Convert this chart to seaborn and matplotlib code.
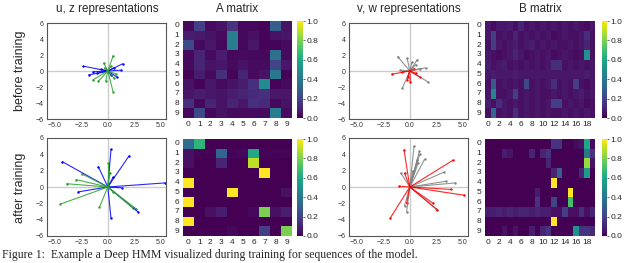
import numpy as np
import pandas as pd
import seaborn as sns
import matplotlib
matplotlib.use('Agg')
import matplotlib.pyplot as plt

# ---- vector endpoints (x, y), all drawn from the origin ----
u_before = [(-2.3, 0.6), (1.4, 0.9), (1.2, 0.1), (-1.8, -0.5), (-1.4, -0.1),
            (0.9, -0.8), (-1.0, -0.3), (0.6, 0.4), (0.3, -0.5), (-0.6, 0.2)]
z_before = [(0.5, 1.9), (-0.4, 1.0), (0.5, -2.6), (-1.4, -1.1), (-0.9, -1.3),
            (-0.2, -1.3), (0.8, -0.4), (0.6, -0.9), (-0.3, 0.4), (0.3, 0.6)]
u_after = [(-4.3, 3.1), (0.3, 4.6), (2.0, 3.8), (-0.9, 2.5), (-2.8, -0.6),
           (0.3, -3.8), (2.9, -3.1), (1.3, -0.1), (5.4, 0.5), (0.5, 1.2)]
z_after = [(-4.5, -2.1), (-3.9, 0.4), (-3.0, 0.9), (-2.45, 1.6), (-0.8, -2.5),
           (0.0, 2.9), (0.2, 1.7), (2.7, -2.7), (2.4, -2.6), (0.5, -0.6)]

v_before = [(-1.15, 1.8), (-0.7, -2.1), (1.5, 0.4), (0.7, 1.4), (-0.25, 1.6),
            (1.7, -1.35), (-0.9, 0.1), (0.55, 0.8), (0.2, 1.1), (1.0, 0.3)]
w_before = [(-1.7, -0.4), (-0.25, -1.15), (1.0, -0.8), (-0.2, -0.75), (0.4, 0.3),
            (-0.7, -0.1), (0.05, -1.35), (0.6, -0.3)]
v_after = [(0.4, 5.0), (0.9, 4.35), (0.95, 4.05), (1.4, 3.4), (0.7, 3.3),
           (-0.85, 1.7), (3.2, 1.8), (3.4, 0.7), (4.3, 0.5), (-0.5, -2.3),
           (-0.3, -3.0), (2.5, -2.7), (0.3, 2.0), (0.8, 3.0)]
w_after = [(-0.55, 4.55), (-1.85, -3.8), (4.1, 3.3), (5.1, -1.0), (3.9, -0.3),
           (2.6, -2.8), (-0.5, 1.7), (-1.0, 0.1), (-0.3, -2.0), (2.2, -2.0)]

# ---- transition matrices ----
A_before = [
    [0.02, 0.18, 0.03, 0.05, 0.15, 0.02, 0.02, 0.01, 0.30, 0.05],
    [0.08, 0.07, 0.05, 0.03, 0.42, 0.02, 0.04, 0.01, 0.05, 0.06],
    [0.22, 0.03, 0.06, 0.02, 0.42, 0.02, 0.06, 0.01, 0.01, 0.03],
    [0.02, 0.10, 0.03, 0.08, 0.02, 0.03, 0.02, 0.02, 0.36, 0.03],
    [0.03, 0.10, 0.05, 0.06, 0.03, 0.05, 0.03, 0.03, 0.20, 0.06],
    [0.01, 0.08, 0.03, 0.14, 0.01, 0.10, 0.03, 0.05, 0.40, 0.01],
    [0.05, 0.01, 0.06, 0.03, 0.05, 0.08, 0.14, 0.48, 0.01, 0.03],
    [0.06, 0.08, 0.06, 0.05, 0.08, 0.10, 0.12, 0.14, 0.06, 0.06],
    [0.14, 0.02, 0.10, 0.05, 0.10, 0.06, 0.14, 0.12, 0.02, 0.05],
    [0.02, 0.22, 0.02, 0.05, 0.03, 0.03, 0.03, 0.03, 0.42, 0.03],
]
A_after = [
    [0.35, 0.65, 0.0, 0.0, 0.0, 0.0, 0.0, 0.0, 0.0, 0.0],
    [0.04, 0.01, 0.01, 0.33, 0.01, 0.02, 0.60, 0.01, 0.01, 0.01],
    [0.04, 0.0, 0.0, 0.10, 0.0, 0.0, 0.90, 0.0, 0.0, 0.0],
    [0.0, 0.0, 0.0, 0.0, 0.0, 0.0, 0.0, 1.0, 0.0, 0.0],
    [1.0, 0.0, 0.0, 0.0, 0.0, 0.0, 0.0, 0.0, 0.0, 0.0],
    [0.0, 0.0, 0.0, 0.0, 1.0, 0.0, 0.0, 0.0, 0.0, 0.04],
    [1.0, 0.0, 0.0, 0.0, 0.0, 0.0, 0.0, 0.0, 0.0, 0.0],
    [0.0, 0.0, 0.04, 0.08, 0.0, 0.0, 0.02, 0.80, 0.04, 0.08],
    [1.0, 0.0, 0.0, 0.0, 0.0, 0.0, 0.0, 0.0, 0.0, 0.0],
    [0.0, 0.0, 0.0, 0.0, 0.02, 0.0, 0.0, 0.18, 0.0, 0.80],
]
B_before = [
    [0.06, 0.03, 0.06, 0.06, 0.08, 0.04, 0.10, 0.04, 0.06, 0.04, 0.06, 0.04, 0.06, 0.04, 0.06, 0.04, 0.06, 0.04, 0.03, 0.06],
    [0.06, 0.18, 0.04, 0.06, 0.04, 0.10, 0.04, 0.06, 0.04, 0.06, 0.04, 0.06, 0.03, 0.04, 0.06, 0.04, 0.04, 0.06, 0.13, 0.04],
    [0.04, 0.18, 0.06, 0.04, 0.06, 0.08, 0.04, 0.06, 0.08, 0.04, 0.06, 0.04, 0.06, 0.04, 0.04, 0.06, 0.04, 0.06, 0.10, 0.04],
    [0.06, 0.04, 0.03, 0.04, 0.06, 0.10, 0.06, 0.03, 0.04, 0.06, 0.04, 0.06, 0.03, 0.04, 0.06, 0.04, 0.03, 0.04, 0.50, 0.04],
    [0.08, 0.04, 0.06, 0.08, 0.04, 0.06, 0.04, 0.06, 0.04, 0.06, 0.04, 0.06, 0.13, 0.13, 0.04, 0.06, 0.04, 0.06, 0.04, 0.06],
    [0.06, 0.08, 0.06, 0.06, 0.06, 0.08, 0.06, 0.06, 0.06, 0.06, 0.06, 0.06, 0.06, 0.06, 0.06, 0.06, 0.06, 0.06, 0.08, 0.06],
    [0.04, 0.28, 0.04, 0.06, 0.04, 0.06, 0.04, 0.22, 0.04, 0.06, 0.04, 0.06, 0.13, 0.04, 0.06, 0.04, 0.18, 0.04, 0.03, 0.06],
    [0.06, 0.45, 0.04, 0.04, 0.06, 0.18, 0.04, 0.06, 0.04, 0.06, 0.04, 0.04, 0.06, 0.04, 0.06, 0.04, 0.06, 0.08, 0.04, 0.06],
    [0.08, 0.04, 0.13, 0.06, 0.04, 0.06, 0.04, 0.06, 0.04, 0.06, 0.04, 0.06, 0.18, 0.18, 0.04, 0.06, 0.04, 0.06, 0.03, 0.04],
    [0.04, 0.33, 0.04, 0.06, 0.04, 0.13, 0.04, 0.06, 0.04, 0.06, 0.04, 0.06, 0.04, 0.04, 0.06, 0.04, 0.06, 0.04, 0.06, 0.04],
]
B_after = [
    [0.0, 0.0, 0.0, 0.0, 0.0, 0.0, 0.0, 0.0, 0.0, 0.0, 0.0, 0.0, 0.15, 0.15, 0.0, 0.0, 0.03, 0.05, 0.60, 0.03],
    [0.0, 0.0, 0.0, 0.08, 0.05, 0.0, 0.0, 0.0, 0.10, 0.0, 0.10, 0.15, 0.0, 0.0, 0.0, 0.0, 0.0, 0.0, 0.40, 0.15],
    [0.0, 0.0, 0.0, 0.0, 0.0, 0.0, 0.0, 0.0, 0.0, 0.0, 0.0, 0.10, 0.0, 0.0, 0.0, 0.0, 0.0, 0.0, 0.85, 0.05],
    [0.0, 0.0, 0.0, 0.0, 0.0, 0.0, 0.0, 0.0, 0.0, 0.0, 0.0, 0.0, 0.10, 0.30, 0.0, 0.0, 0.0, 0.10, 0.55, 0.0],
    [0.0, 0.0, 0.0, 0.0, 0.0, 0.0, 0.0, 0.0, 0.0, 0.0, 0.0, 0.0, 1.0, 0.0, 0.0, 0.0, 0.0, 0.0, 0.0, 0.0],
    [0.0, 0.0, 0.0, 0.0, 0.0, 0.0, 0.0, 0.0, 0.0, 0.08, 0.0, 0.0, 0.0, 0.0, 0.0, 1.0, 0.0, 0.0, 0.0, 0.0],
    [0.0, 0.0, 0.0, 0.0, 0.0, 0.0, 0.0, 0.0, 0.0, 0.15, 0.0, 0.0, 0.20, 0.0, 0.0, 0.70, 0.0, 0.0, 0.0, 0.0],
    [0.08, 0.08, 0.10, 0.08, 0.10, 0.08, 0.10, 0.10, 0.08, 0.10, 0.08, 0.08, 0.04, 0.04, 0.18, 0.04, 0.04, 0.13, 0.04, 0.10],
    [0.0, 0.0, 0.0, 0.0, 0.0, 0.0, 0.0, 0.0, 0.0, 0.0, 0.0, 0.0, 1.0, 0.0, 0.0, 0.0, 0.0, 0.0, 0.0, 0.0],
    [0.0, 0.0, 0.0, 0.05, 0.0, 0.05, 0.0, 0.0, 0.08, 0.0, 0.10, 0.15, 0.0, 0.0, 0.0, 0.0, 0.50, 0.15, 0.15, 0.12],
]

col_titles = ['u, z representations', 'A matrix', 'v, w representations', 'B matrix']
row_titles = ['before training', 'after training']
caption = 'Figure 1:  Example a Deep HMM visualized during training for sequences of the model.'

sns.set_style('white')
plt.rcParams['font.family'] = ['Liberation Sans', 'DejaVu Sans']

W, H = 640, 263
fig = plt.figure(figsize=(W / 100, H / 100), dpi=100)


def box(l, t, r, b):
    return [l / W, 1 - b / H, (r - l) / W, (b - t) / H]


def vectors_df(vecs):
    rows = []
    for i, (x, y) in enumerate(vecs):
        rows.append({'vec': i, 'x': 0.0, 'y': 0.0})
        rows.append({'vec': i, 'x': x, 'y': y})
    return pd.DataFrame(rows)


def draw_vectors(ax, sets):
    ax.axhline(0, color='#cccccc', lw=1.0, zorder=0)
    ax.axvline(0, color='#cccccc', lw=1.0, zorder=0)
    for vecs, color in sets:
        df = vectors_df(vecs)
        sns.lineplot(data=df, x='x', y='y', units='vec', estimator=None, sort=False,
                     color=color, lw=0.8, alpha=0.85, ax=ax)
        ends = df[df['x'].ne(0) | df['y'].ne(0)]
        sns.scatterplot(data=ends, x='x', y='y', color=color, s=3, linewidth=0, ax=ax)
    ax.set_xlim(-5.75, 5.5)
    ax.set_ylim(-6, 6)
    ax.set_xticks([-5, -2.5, 0, 2.5, 5])
    ax.set_xticklabels(['−5.0', '−2.5', '0.0', '2.5', '5.0'])
    ax.set_yticks([-6, -4, -2, 0, 2, 4, 6])
    ax.set_yticklabels(['−6', '−4', '−2', '0', '2', '4', '6'])
    ax.set_xlabel('')
    ax.set_ylabel('')
    ax.tick_params(labelsize=5, length=1.5, width=0.5, pad=1, colors='#333333')
    for s in ax.spines.values():
        s.set_color('#555555')
        s.set_linewidth(0.8)


def draw_matrix(ax, cax, mat, xstep):
    sns.heatmap(np.array(mat), cmap='viridis', vmin=0, vmax=1, ax=ax, cbar_ax=cax,
                xticklabels=xstep, yticklabels=1)
    ax.tick_params(labelsize=6, length=1.5, width=0.5, pad=1)
    ax.set_yticklabels(ax.get_yticklabels(), rotation=0)
    ax.set_xticklabels(ax.get_xticklabels(), rotation=0)
    cax.set_yticks([0, 0.2, 0.4, 0.6, 0.8, 1.0])
    cax.set_yticklabels(['0.0', '0.2', '0.4', '0.6', '0.8', '1.0'])
    cax.tick_params(labelsize=6, length=1.5, width=0.5, pad=1)


rows_y = [(23, 119), (138, 236)]
hm_y = [(21, 118), (139, 236)]
vec_data = [
    ([(u_before, 'blue'), (z_before, '#2ca02c')], [(v_before, 'gray'), (w_before, 'red')]),
    ([(u_after, 'blue'), (z_after, '#2ca02c')], [(v_after, 'gray'), (w_after, 'red')]),
]
mats = [(A_before, B_before), (A_after, B_after)]

for r in range(2):
    t, b = rows_y[r]
    ht, hb = hm_y[r]
    ax1 = fig.add_axes(box(47, t, 166, b))
    draw_vectors(ax1, vec_data[r][0])
    ax3 = fig.add_axes(box(349, t, 468, b))
    draw_vectors(ax3, vec_data[r][1])

    axA = fig.add_axes(box(183, ht, 292, hb))
    caxA = fig.add_axes(box(297, ht, 303, hb))
    draw_matrix(axA, caxA, mats[r][0], 1)
    axB = fig.add_axes(box(485, ht, 595, hb))
    caxB = fig.add_axes(box(602, ht, 607, hb))
    draw_matrix(axB, caxB, mats[r][1], 2)

for title, xc in zip(col_titles, [107, 237, 409, 540]):
    fig.text(xc / W, 1 - 9 / H, title, ha='center', va='center', fontsize=8.4)

for label, yc in zip(row_titles, [71, 188]):
    fig.text(20 / W, 1 - yc / H, label, rotation=90, ha='center', va='center', fontsize=9)

# caption sits at the very bottom edge, as in the source figure
fig.text(2 / W, 2 / H, caption, ha='left', va='bottom', fontsize=8.5,
         family=['Liberation Serif', 'DejaVu Serif'])

fig.savefig('out.png', dpi=100)
